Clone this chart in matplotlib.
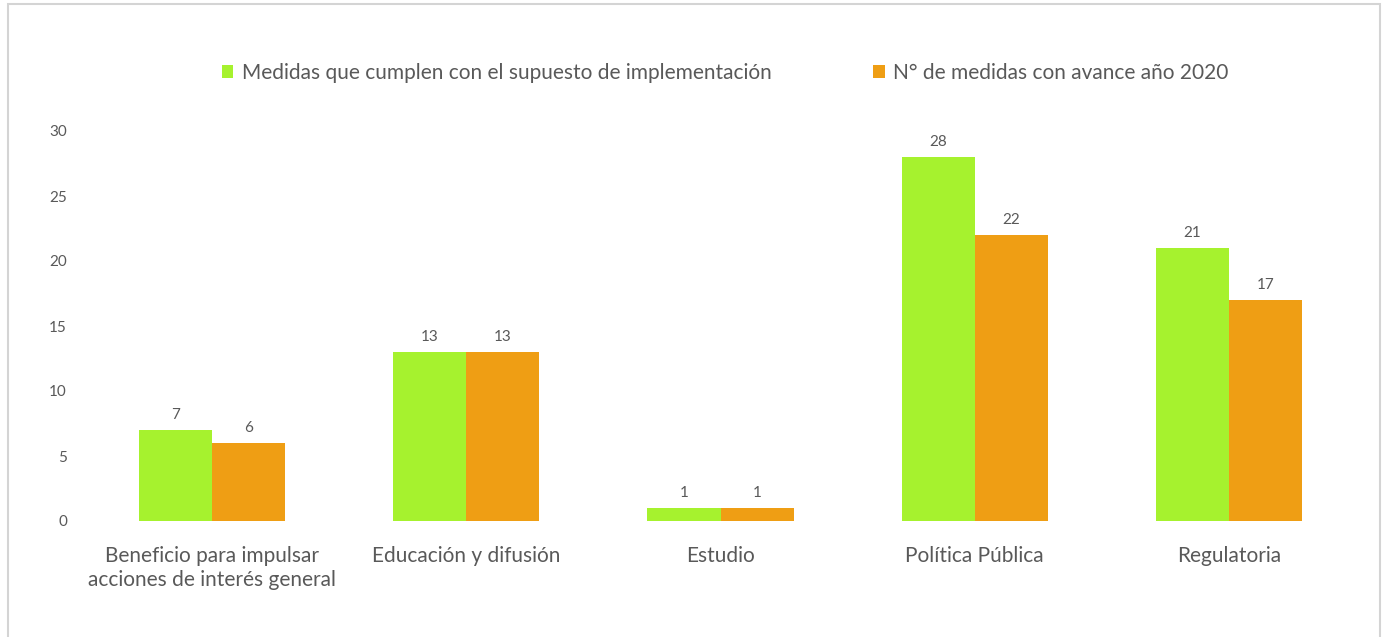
import numpy as np
import matplotlib.pyplot as plt
from matplotlib.patches import Rectangle

# Data
categories = ['Beneficio para impulsar\nacciones de interés general', 'Educación y difusión',
              'Estudio', 'Política Pública', 'Regulatoria']
cumplen = [7, 13, 1, 28, 21]
avance = [6, 13, 1, 22, 17]
series_names = ['Medidas que cumplen con el supuesto de implementación',
                'N° de medidas con avance año 2020']

green = '#A6F22E'
orange = '#EF9E14'
text_col = '#595959'

plt.rcParams['font.family'] = ['Lato', 'DejaVu Sans']

fig = plt.figure(figsize=(13.87, 6.37), dpi=100)
ax = fig.add_axes([85 / 1387, 1 - 521 / 637, (1356 - 85) / 1387, (521 - 131) / 637])

x = np.arange(len(categories))
w = 0.2875
b1 = ax.bar(x - w / 2, cumplen, w, color=green, label=series_names[0])
b2 = ax.bar(x + w / 2, avance, w, color=orange, label=series_names[1])

# Value labels above bars
for bars in (b1, b2):
    for r in bars:
        ax.annotate(f'{int(r.get_height())}', (r.get_x() + r.get_width() / 2, r.get_height()),
                    xytext=(0, 6), textcoords='offset points', ha='center', va='bottom',
                    fontsize=11, color=text_col)

ax.set_xlim(-0.5, 4.5)
ax.set_ylim(0, 30)
ax.set_yticks(range(0, 31, 5))
ax.set_xticks(x)
ax.set_xticklabels(categories, fontsize=15, color=text_col, linespacing=1.25)
ax.tick_params(axis='y', length=0, labelsize=11, labelcolor=text_col, pad=13)
ax.tick_params(axis='x', length=0, pad=18)
for s in ax.spines.values():
    s.set_visible(False)

# Legend above plot
fig.legend(handles=[b1, b2], loc='center left', bbox_to_anchor=(203 / 1387, 1 - 73 / 637),
           ncol=2, frameon=False, fontsize=15, labelcolor=text_col, handlelength=0.55,
           handleheight=0.55, handletextpad=0.4, columnspacing=4.9)

# Chart border
fig.patches.append(Rectangle((8 / 1387, -0.01), (1380 - 8) / 1387, 1 - 4 / 637 + 0.01,
                             transform=fig.transFigure, fill=False, edgecolor='#D4D4D4', lw=1.5))

fig.savefig('out.png', dpi=100)
